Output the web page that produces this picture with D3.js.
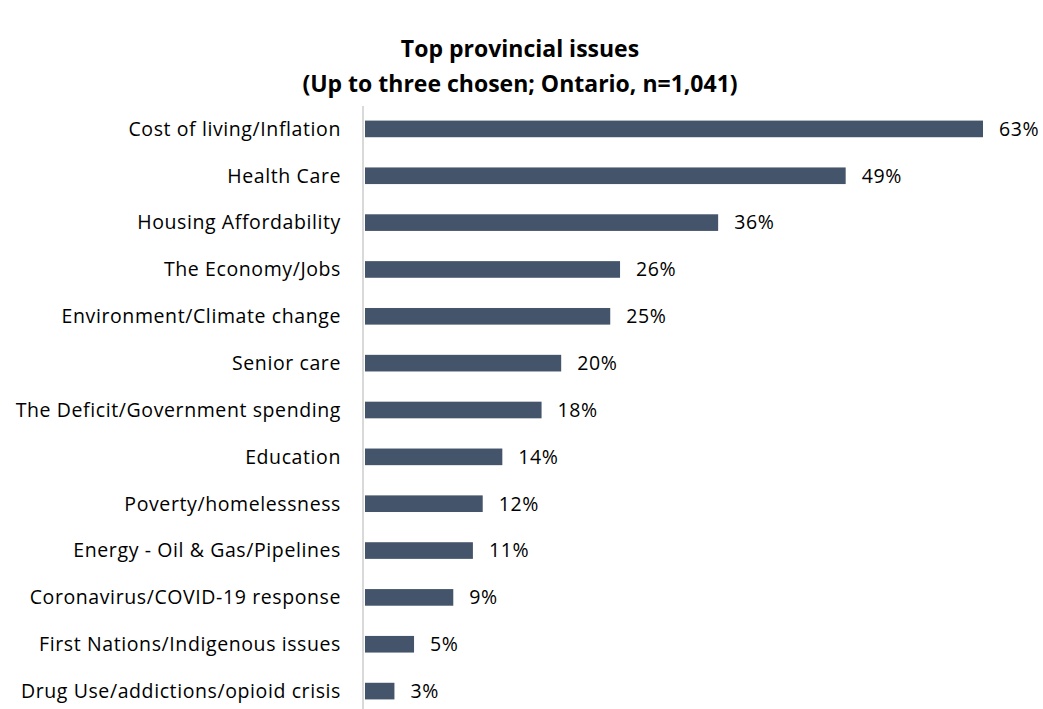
<!DOCTYPE html>
<html>
<head>
<meta charset="utf-8">
<script src="https://cdn.jsdelivr.net/npm/d3@7"></script>
<style>
  body { margin: 0; background: #fff; }
  text { font-family: "Open Sans", "Noto Sans", sans-serif; }
</style>
</head>
<body>
<svg width="1043" height="709"></svg>
<script>
var issues = ["Cost of living/Inflation", "Health Care", "Housing Affordability", "The Economy/Jobs",
              "Environment/Climate change", "Senior care", "The Deficit/Government spending", "Education",
              "Poverty/homelessness", "Energy - Oil & Gas/Pipelines", "Coronavirus/COVID-19 response",
              "First Nations/Indigenous issues", "Drug Use/addictions/opioid crisis"];
var shares = [63, 49, 36, 26, 25, 20, 18, 14, 12, 11, 9, 5, 3];

var svg = d3.select("svg");

// 标题
var title = svg.append("text")
    .attr("text-anchor", "middle")
    .attr("font-weight", "bold")
    .attr("font-size", 23)
    .attr("fill", "#000");
title.append("tspan").attr("x", 520).attr("y", 57).text("Top provincial issues");
title.append("tspan").attr("x", 520).attr("y", 92).text("(Up to three chosen; Ontario, n=1,041)");

var x = d3.scaleLinear().domain([0, 63]).range([365, 983]);
var y = d3.scaleBand().domain(issues).range([105.6, 714.4]).paddingInner(0.645).paddingOuter(0.32);

// 纵轴线
svg.append("line")
    .attr("x1", 363).attr("x2", 363)
    .attr("y1", 106).attr("y2", 709)
    .attr("stroke", "#d9d9d9")
    .attr("stroke-width", 2);

svg.append("g")
    .selectAll("rect")
    .data(shares)
    .enter().append("rect")
    .attr("x", x(0))
    .attr("y", function(d, i) { return y(issues[i]); })
    .attr("width", function(d) { return x(d) - x(0); })
    .attr("height", y.bandwidth())
    .attr("fill", "#44546a");

// 类别标签
svg.append("g")
    .selectAll("text")
    .data(issues)
    .enter().append("text")
    .attr("x", 341)
    .attr("y", function(d) { return y(d) + y.bandwidth() / 2; })
    .attr("dy", "0.35em")
    .attr("text-anchor", "end")
    .attr("font-size", 19.5)
    .attr("letter-spacing", 0.6)
    .attr("fill", "#000")
    .text(function(d) { return d; });

// 数值标签
svg.append("g")
    .selectAll("text")
    .data(shares)
    .enter().append("text")
    .attr("x", function(d) { return x(d) + 16; })
    .attr("y", function(d, i) { return y(issues[i]) + y.bandwidth() / 2; })
    .attr("dy", "0.35em")
    .attr("font-size", 19.5)
    .attr("letter-spacing", 0.6)
    .attr("fill", "#000")
    .text(function(d) { return d + "%"; });
</script>
</body>
</html>
